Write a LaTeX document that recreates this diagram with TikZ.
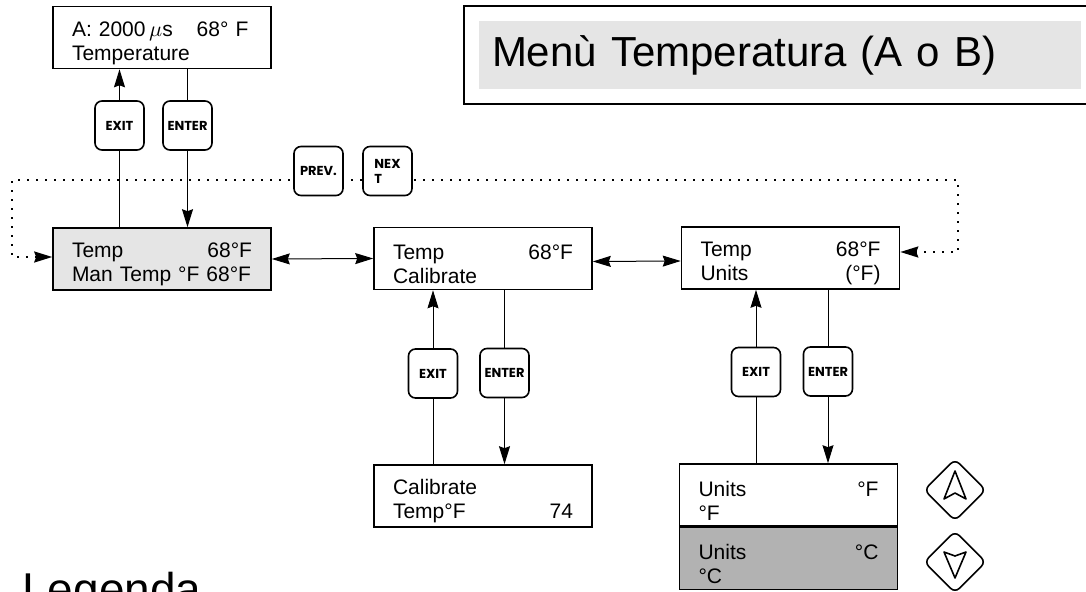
\documentclass[tikz,border=0pt]{standalone}
\usepackage{fontspec}
\setmainfont{Liberation Sans}
\newfontfamily\keyfont{Poppins}
\usetikzlibrary{arrows.meta,shapes.geometric}
\newcommand{\lcdgap}{\hskip 0pt plus 1filll\relax}

\begin{document}
\begin{tikzpicture}[x=0.5pt,y=-0.5pt]
\tikzstyle{lcd}=[draw,line width=0.8pt,minimum width=109pt,minimum height=31pt,inner xsep=9.5pt,inner ysep=0pt,text width=90pt,align=left,font=\fontsize{10.5}{12}\selectfont,execute at begin node={\rule{0pt}{13pt}}]
\tikzstyle{btn}=[draw,fill=white,line width=0.8pt,rounded corners=3.5pt,minimum width=24.5pt,minimum height=24.5pt,inner sep=1pt,align=left,font=\keyfont\fontsize{6.5}{7.5}\selectfont\bfseries]
\tikzstyle{arrowkey}=[draw,shape=diamond,line width=0.8pt,rounded corners=3pt,minimum size=31pt,inner sep=0pt]
\tikzstyle{wire}=[line width=0.5pt]
\tikzstyle{arr}=[-{Stealth[length=9pt,width=5.5pt,inset=1pt]}]
\tikzstyle{both}=[{Stealth[length=9pt,width=5.5pt,inset=1pt]}-{Stealth[length=9pt,width=5.5pt,inset=1pt]}]
\tikzstyle{loopline}=[line width=1pt,dash pattern=on 1pt off 3.5pt]
\useasboundingbox (0,0) rectangle (1086,592);
\draw[line width=1pt] (1086,6) -- (464,6) -- (464,104) -- (1086,104);
\node[fill=gray!20,minimum width=301pt,minimum height=34pt,inner xsep=6.5pt,text width=288pt,align=left,font=\fontsize{21}{25}\selectfont] (title) at (780,55) {Menù Temperatura (A o B)};
\node[anchor=base west,inner sep=0pt,font=\fontsize{23}{27}\selectfont] (legend) at (22,605) {Legenda};
\node[lcd] (tempTop) at (162,37.5) {A: 2000\,$\mu$s\hspace{12pt}68° F\\Temperature};
\node[lcd,fill=gray!20] (tempMan) at (162,259) {Temp\lcdgap 68°F\\Man Temp °F 68°F};
\node[lcd] (tempCal) at (483,258.5) {Temp\lcdgap 68°F\\Calibrate};
\node[lcd] (tempUnits) at (790.5,258) {Temp\lcdgap 68°F\\Units\lcdgap (°F)};
\node[lcd] (calTemp) at (483,496) {Calibrate\\Temp°F\lcdgap 74};
\node[lcd] (unitsF) at (788.5,495) {Units\lcdgap °F\\°F};
\node[lcd,fill=gray!60] (unitsC) at (788.5,558.5) {Units\lcdgap °C\\°C};
\node[btn] (exitTop) at (119.5,125.5) {EXIT};
\node[btn] (enterTop) at (187.5,125.5) {ENTER};
\node[btn] (exitCal) at (433,373.5) {EXIT};
\node[btn] (enterCal) at (504.5,373) {ENTER};
\node[btn] (exitUnits) at (756,372) {EXIT};
\node[btn] (enterUnits) at (828,371.5) {ENTER};
\draw[wire,arr] (exitTop.north) -- (exitTop |- tempTop.south);
\draw[wire] (exitTop.south) -- (exitTop |- tempMan.north);
\draw[wire] (enterTop |- tempTop.south) -- (enterTop.north);
\draw[wire,arr] (enterTop.south) -- (enterTop |- tempMan.north);
\draw[wire,arr] (exitCal.north) -- (exitCal |- tempCal.south);
\draw[wire] (exitCal.south) -- (exitCal |- calTemp.north);
\draw[wire] (enterCal |- tempCal.south) -- (enterCal.north);
\draw[wire,arr] (enterCal.south) -- (enterCal |- calTemp.north);
\draw[wire,arr] (exitUnits.north) -- (exitUnits |- tempUnits.south);
\draw[wire] (exitUnits.south) -- (exitUnits |- unitsF.north);
\draw[wire] (enterUnits |- tempUnits.south) -- (enterUnits.north);
\draw[wire,arr] (enterUnits.south) -- (enterUnits |- unitsF.north);
\draw[wire,both] (tempMan.east) -- (tempCal.west);
\draw[wire,both] ([yshift=-1.5pt]tempCal.east) -- ([yshift=-1.5pt]tempUnits.west);
\coordinate (loopL) at (12,180);
\coordinate (loopR) at (958,180);
\draw[loopline,both] ([yshift=1pt]tempMan.west) -| (loopL) -- (loopR) |- ([yshift=3pt]tempUnits.east);
\node[btn] (prevKey) at (318.5,171) {PREV.};
\node[btn] (nextKey) at (387.5,171) {NEX\\T};
\node[arrowkey] (upKey) at (955,490) {};
\node[arrowkey] (downKey) at (955,562) {};
\draw[line width=0.8pt,line join=round] (upKey.center) ++(0,-19) -- ++(-11,28) -- ++(11,-6) -- ++(11,6) -- cycle;
\draw[line width=0.8pt,line join=round] (downKey.center) ++(0,16) -- ++(-11,-26) -- ++(11,4) -- ++(11,-4) -- cycle;
\end{tikzpicture}
\end{document}
